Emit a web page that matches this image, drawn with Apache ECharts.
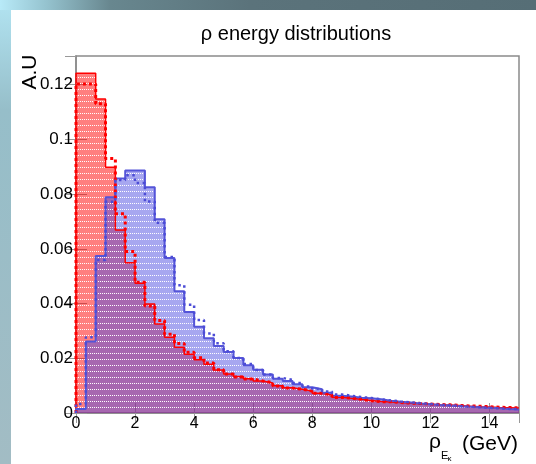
<!DOCTYPE html>
<html>
<head>
<meta charset="utf-8">
<script src="https://cdn.jsdelivr.net/npm/echarts@6/dist/echarts.min.js"></script>
<style>
  html, body { margin: 0; padding: 0; }
  body {
    width: 536px; height: 464px; overflow: hidden;
    background:
      linear-gradient(#fff, #fff) 11px 10px / 525px 454px no-repeat,
      linear-gradient(to right, #b8eaf8 0px, #96c4d0 45px, #68878f 110px, #5b737b 250px, #566e76 536px) 0 0 / 536px 10px no-repeat,
      linear-gradient(to bottom, #b2e4f2 0px, #96bec9 110px, #a2bcc4 464px) 0 0 / 11px 464px no-repeat;
  }
  #chart { position: absolute; left: 0; top: 0; width: 536px; height: 464px; }
</style>
</head>
<body>
<div id="chart"></div>
<script>
// histogram binning: 45 bins of 1/3 GeV between 0 and 15
var xMin = 0, xMax = 15, nBins = 45;
var binWidth = (xMax - xMin) / nBins;

// red, solid
var redSolid = [
  0.1242, 0.1242, 0.1148, 0.0898, 0.0669, 0.0549, 0.0474, 0.0398, 0.0325,
  0.0277, 0.0240, 0.0215, 0.0195, 0.0178, 0.0157, 0.0143, 0.0133, 0.0125,
  0.0117, 0.0110, 0.0100, 0.0092, 0.0087, 0.0080, 0.0072, 0.0066, 0.0058,
  0.0054, 0.0050, 0.0046, 0.0042, 0.0040, 0.0038, 0.0036, 0.0034, 0.0032,
  0.0030, 0.0029, 0.0027, 0.0025, 0.0023, 0.0022, 0.0020, 0.0019, 0.0018
];
// red, dotted
var redDotted = [
  0.1203, 0.1203, 0.1130, 0.0930, 0.0728, 0.0590, 0.0478, 0.0391, 0.0338,
  0.0288, 0.0254, 0.0222, 0.0202, 0.0183, 0.0158, 0.0143, 0.0132, 0.0124,
  0.0117, 0.0111, 0.0099, 0.0091, 0.0087, 0.0080, 0.0072, 0.0066, 0.0057,
  0.0054, 0.0050, 0.0045, 0.0041, 0.0041, 0.0038, 0.0036, 0.0035, 0.0033,
  0.0031, 0.0030, 0.0028, 0.0026, 0.0025, 0.0023, 0.0021, 0.0020, 0.0019
];
// blue, solid
var blueSolid = [
  0.0015, 0.0261, 0.0574, 0.0789, 0.0857, 0.0886, 0.0886, 0.0825, 0.0708,
  0.0567, 0.0445, 0.0369, 0.0315, 0.0273, 0.0245, 0.0223, 0.0201, 0.0175,
  0.0158, 0.0141, 0.0125, 0.0117, 0.0105, 0.0094, 0.0087, 0.0074, 0.0063,
  0.0060, 0.0056, 0.0054, 0.0050, 0.0045, 0.0041, 0.0038, 0.0035, 0.0032,
  0.0029, 0.0027, 0.0025, 0.0023, 0.0021, 0.0019, 0.0017, 0.0015, 0.0013
];
// blue, dotted
var blueDotted = [
  0.0033, 0.0277, 0.0559, 0.0772, 0.0852, 0.0869, 0.0841, 0.0773, 0.0695,
  0.0570, 0.0467, 0.0396, 0.0340, 0.0291, 0.0255, 0.0226, 0.0201, 0.0179,
  0.0157, 0.0141, 0.0128, 0.0121, 0.0110, 0.0097, 0.0088, 0.0079, 0.0068,
  0.0063, 0.0058, 0.0055, 0.0050, 0.0046, 0.0042, 0.0039, 0.0036, 0.0033,
  0.0030, 0.0028, 0.0026, 0.0023, 0.0021, 0.0019, 0.0017, 0.0015, 0.0014
];

var FONT = '"Liberation Sans", Arial, Helvetica, sans-serif';

// turn bin contents into step points (value held until next edge)
function stepPoints(vals) {
  var pts = [[xMin, 0]];
  for (var i = 0; i < vals.length; i++) {
    pts.push([xMin + i * binWidth, vals[i]]);
  }
  pts.push([xMax, vals[vals.length - 1]]);
  return pts;
}

// ROOT-like fill: translucent colour with rows of white dots
function dottedFill(rgba) {
  var c = document.createElement('canvas');
  c.width = 2; c.height = 6;
  var g = c.getContext('2d');
  g.fillStyle = rgba;
  g.fillRect(0, 0, 2, 6);
  g.clearRect(0, 5, 1, 1);
  g.fillStyle = 'rgba(255,255,255,0.9)';
  g.fillRect(0, 5, 1, 1);
  return { image: c, repeat: 'repeat' };
}

function histSeries(vals, lineStyle, area) {
  var s = {
    type: 'line',
    step: 'end',
    data: stepPoints(vals),
    showSymbol: false,
    silent: true,
    lineStyle: lineStyle
  };
  if (area) s.areaStyle = { color: area, opacity: 1 };
  return s;
}

var chart = echarts.init(document.getElementById('chart'), null, { renderer: 'canvas' });

var axisGrey = '#8a8a8a';
var option = {
  animation: false,
  grid: {
    left: 76, right: 17, top: 56, bottom: 51,
    show: true, borderColor: axisGrey, borderWidth: 1.5, backgroundColor: 'transparent'
  },
  xAxis: [{
    type: 'value', min: xMin, max: xMax, interval: 2,
    axisLine: { show: true, lineStyle: { color: axisGrey, width: 1.5 } },
    axisTick: { show: true, inside: true, length: 10, lineStyle: { color: '#999', width: 1 } },
    axisLabel: { show: true, margin: 3, color: '#000', fontSize: 16, fontFamily: FONT, showMaxLabel: false },
    splitLine: { show: false }
  }, {
    type: 'value', position: 'top', min: xMin, max: xMax, interval: 2,
    axisLine: { show: false },
    axisTick: { show: true, inside: true, length: 10, lineStyle: { color: '#999', width: 1 } },
    axisLabel: { show: false },
    splitLine: { show: false }
  }],
  yAxis: [{
    type: 'value', min: 0, max: 0.1305, interval: 0.02,
    axisLine: { show: true, lineStyle: { color: axisGrey, width: 1.5 } },
    axisTick: { show: true, inside: true, length: 11, lineStyle: { color: '#999', width: 1 } },
    axisLabel: { show: true, margin: 3, color: '#000', fontSize: 17, fontFamily: FONT, showMaxLabel: false },
    splitLine: { show: false }
  }, {
    type: 'value', position: 'right', min: 0, max: 0.1305, interval: 0.02,
    axisLine: { show: false },
    axisTick: { show: true, inside: true, length: 11, lineStyle: { color: '#999', width: 1 } },
    axisLabel: { show: false },
    splitLine: { show: false }
  }],
  series: [
    histSeries(redSolid, { color: '#ff0000', width: 1.5 }, dottedFill('rgba(255,0,0,0.5)')),
    histSeries(blueSolid, { color: '#5454d8', width: 2 }, dottedFill('rgba(80,80,225,0.5)')),
    histSeries(redDotted, { color: '#ff0000', width: 3, type: [3, 3] }),
    histSeries(blueDotted, { color: '#4c4cd6', width: 2.5, type: [2.5, 3.5] })
  ],
  graphic: [
    { type: 'text', x: 296, y: 34, style: { text: 'ρ energy distributions', font: '20px ' + FONT, fill: '#000', textAlign: 'center', textVerticalAlign: 'middle' } },
    { type: 'text', x: 30, y: 72, rotation: Math.PI / 2, style: { text: 'A.U', font: '21px ' + FONT, fill: '#000', textAlign: 'center', textVerticalAlign: 'middle' } },
    { type: 'text', x: 429, y: 453, style: { text: 'ρ', font: '21px ' + FONT, fill: '#000', textAlign: 'left', textVerticalAlign: 'bottom' } },
    { type: 'text', x: 441, y: 461, style: { text: 'E', font: '11px ' + FONT, fill: '#000', textAlign: 'left', textVerticalAlign: 'bottom' } },
    { type: 'text', x: 447.5, y: 463, style: { text: 'κ', font: '8px ' + FONT, fill: '#000', textAlign: 'left', textVerticalAlign: 'bottom' } },
    { type: 'text', x: 518, y: 444, style: { text: '(GeV)', font: '21px ' + FONT, fill: '#000', textAlign: 'right', textVerticalAlign: 'middle' } }
  ]
};

chart.setOption(option);
</script>
</body>
</html>
